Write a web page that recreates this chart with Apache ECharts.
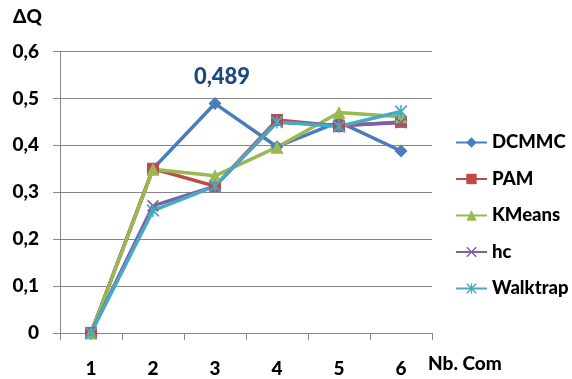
<!DOCTYPE html>
<html>
<head>
<meta charset="utf-8">
<script src="https://cdn.jsdelivr.net/npm/echarts@6/dist/echarts.min.js"></script>
<style>
  html, body { margin: 0; padding: 0; background: #fff; }
  #chart { width: 572px; height: 379px; }
</style>
</head>
<body>
<div id="chart"></div>
<script>
// Number of communities on the x axis
const categories = ['1', '2', '3', '4', '5', '6'];

// Modularity gain (ΔQ) per method
const dcmmc    = [0, 0.350, 0.489, 0.397, 0.450, 0.388];
const pam      = [0, 0.350, 0.313, 0.454, 0.441, 0.450];
const kmeans   = [0, 0.349, 0.335, 0.396, 0.470, 0.461];
const hc       = [0, 0.271, 0.313, 0.449, 0.443, 0.448];
const walktrap = [0, 0.261, 0.313, 0.450, 0.440, 0.472];

const yTicks = [0, 0.1, 0.2, 0.3, 0.4, 0.5, 0.6];

const FONT = 'Lato';
const AXIS_GREY = '#868686';

// Marker shapes for the cross-style series
const crossPath = 'path://M0,1L1,0L5,4L9,0L10,1L6,5L10,9L9,10L5,6L1,10L0,9L4,5Z';
const starPath = 'path://M0,1L1,0L5,4L9,0L10,1L6,5L10,9L9,10L5,6L1,10L0,9L4,5Z M4.4,0L5.6,0L5.6,10L4.4,10Z';

function fmt(v) {
  return v === 0 ? '0' : v.toFixed(1).replace('.', ',');
}

function lineSeries(name, data, color, symbol, size) {
  return {
    name: name,
    type: 'line',
    data: data,
    color: color,
    symbol: symbol,
    symbolSize: size,
    showAllSymbol: true,
    lineStyle: { width: 3.5, color: color },
    itemStyle: { color: color },
    emphasis: { disabled: true },
    animation: false,
    z: 3
  };
}

const series = [
  lineSeries('DCMMC', dcmmc, '#4A7EBB', 'diamond', 13),
  lineSeries('PAM', pam, '#BE4B48', 'rect', 12),
  lineSeries('KMeans', kmeans, '#98B954', 'triangle', 13),
  lineSeries('hc', hc, '#7D60A0', crossPath, 12),
  lineSeries('Walktrap', walktrap, '#46AAC5', starPath, 13)
];

// Value label on the DCMMC peak
series[0].data = dcmmc.map((v, i) => i === 2 ? {
  value: v,
  label: {
    show: true,
    position: 'top',
    offset: [7, -4],
    formatter: p => p.value.toFixed(3).replace('.', ','),
    fontFamily: FONT,
    fontWeight: 900,
    fontSize: 22,
    color: '#1F497D'
  }
} : v);

const chart = echarts.init(document.getElementById('chart'), null, { renderer: 'canvas' });

chart.setOption({
  backgroundColor: '#fff',
  animation: false,
  grid: { left: 60, right: 140, top: 51.5, bottom: 46, containLabel: false },
  xAxis: {
    type: 'category',
    data: categories,
    boundaryGap: true,
    axisLine: { lineStyle: { color: AXIS_GREY, width: 1 } },
    axisTick: { show: true, alignWithLabel: false, length: 7, lineStyle: { color: AXIS_GREY } },
    axisLabel: { margin: 26, fontFamily: FONT, fontWeight: 900, fontSize: 19, color: '#000' },
    splitLine: { show: false }
  },
  yAxis: {
    type: 'value',
    min: yTicks[0],
    max: yTicks[yTicks.length - 1],
    interval: 0.1,
    axisLine: { show: true, lineStyle: { color: AXIS_GREY, width: 1 } },
    axisTick: { show: true, length: 7, lineStyle: { color: AXIS_GREY } },
    axisLabel: { margin: 21, fontFamily: FONT, fontWeight: 900, fontSize: 19, color: '#000', formatter: fmt },
    splitLine: { show: true, lineStyle: { color: AXIS_GREY, width: 1 } }
  },
  legend: {
    orient: 'vertical',
    left: 450,
    top: 128,
    padding: 5,
    itemWidth: 31,
    itemHeight: 13,
    itemGap: 17.5,
    textStyle: { fontFamily: FONT, fontWeight: 900, fontSize: 18.5, color: '#000' },
    data: ['DCMMC', 'PAM', 'KMeans', 'hc', 'Walktrap']
  },
  graphic: [
    {
      type: 'text', left: 13, top: 7,
      style: { text: 'ΔQ', fontFamily: FONT, fontWeight: 900, fontSize: 19, fill: '#000' }
    },
    {
      type: 'text', left: 428, top: 354,
      style: { text: 'Nb. Com', fontFamily: FONT, fontWeight: 900, fontSize: 19, fill: '#000' }
    }
  ],
  series: series
});
</script>
</body>
</html>
